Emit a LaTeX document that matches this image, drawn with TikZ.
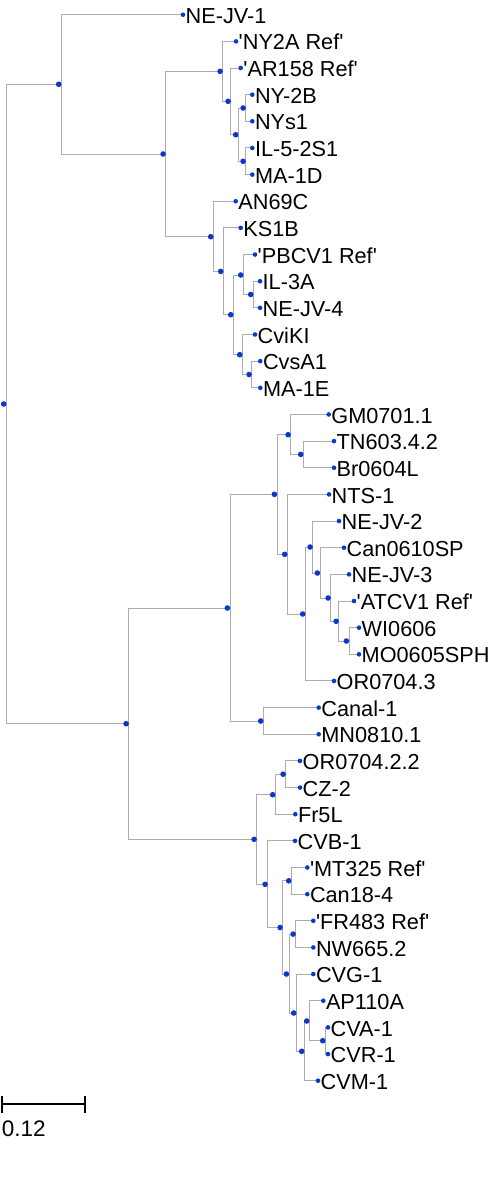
\documentclass[tikz,border=0pt]{standalone}
\usepackage{fontspec}
\setmainfont{Liberation Sans}
\definecolor{branchgray}{RGB}{172,172,172}
\definecolor{dotblue}{RGB}{10,55,205}
\newcommand{\apos}{\textquotesingle}
\tikzset{
    branch/.style={branchgray, line width=1pt},
    leaflabel/.style={anchor=base west, inner sep=0pt, xshift=2.5pt, yshift=-8.6pt,
        font=\fontsize{21.7}{26}\selectfont},
}
\begin{document}
\begin{tikzpicture}[x=1pt, y=-1pt]
    \useasboundingbox (0,0) rectangle (494,1179);
    % leaves, one row each
    \foreach \lx [count=\i] in {183,236,240.7,252.3,252.3,252.3,252.3,235.7,240.7,255,260,260,255,260.3,260.3,
        328.7,334,334,329,339,344,349,354,359,359,334,318.7,318.7,
        300,300,295.3,295,307.3,307.3,313.3,313.3,313.3,323.3,328,328,318}
        \coordinate (L\i) at (\lx,{14.7+26.65*(\i-1)});
    % internal nodes
    \coordinate (r) at (6.3,404);
    \coordinate (t) at (61.3,84.3);
    \coordinate (a) at (165.7,154);
    \coordinate (ny) at (222.7,71.3);
    \coordinate (nya) at (230.7,101.3);
    \coordinate (nyb) at (238.3,134.7);
    \coordinate (nyc) at (245.7,108);
    \coordinate (nyd) at (245.7,161.3);
    \coordinate (an) at (213.3,236.7);
    \coordinate (ks) at (223.3,271.4);
    \coordinate (pb) at (233.3,314.7);
    \coordinate (pv) at (243.3,275);
    \coordinate (il) at (253.3,294.5);
    \coordinate (cv) at (242.3,354.7);
    \coordinate (cs) at (251.7,374.5);
    \coordinate (b) at (128.7,723.7);
    \coordinate (c) at (230,608);
    \coordinate (ch) at (277,494.3);
    \coordinate (gm) at (290.7,434.7);
    \coordinate (tn) at (303.3,454.4);
    \coordinate (nt) at (287.3,554.3);
    \coordinate (s1) at (305.3,614);
    \coordinate (s2) at (312.7,547);
    \coordinate (s3) at (320,573);
    \coordinate (s4) at (330.7,598);
    \coordinate (s5) at (338.7,621.3);
    \coordinate (s6) at (349,641);
    \coordinate (cn) at (263.3,721);
    \coordinate (d) at (256.7,839.3);
    \coordinate (oc) at (275.3,794.7);
    \coordinate (oz) at (285.7,774.2);
    \coordinate (vb) at (267.7,884.3);
    \coordinate (e) at (282.7,927.5);
    \coordinate (mt) at (291.3,880.8);
    \coordinate (f) at (289,974);
    \coordinate (fr) at (295.7,934.1);
    \coordinate (g) at (296.3,1013);
    \coordinate (h) at (304.3,1051.3);
    \coordinate (ap) at (309.3,1021);
    \coordinate (ar) at (325.3,1040.7);
    % branches
    \foreach \p/\q in {r/t,r/b,t/L1,t/a,a/ny,a/an,ny/L2,ny/nya,nya/L3,nya/nyb,nyb/nyc,nyb/nyd,
        nyc/L4,nyc/L5,nyd/L6,nyd/L7,an/L8,an/ks,ks/L9,ks/pb,pb/pv,pb/cv,pv/L10,pv/il,
        il/L11,il/L12,cv/L13,cv/cs,cs/L14,cs/L15,
        b/c,b/d,c/ch,c/cn,ch/gm,ch/nt,gm/L16,gm/tn,tn/L17,tn/L18,nt/L19,nt/s1,s1/s2,s1/L26,
        s2/L20,s2/s3,s3/L21,s3/s4,s4/L22,s4/s5,s5/L23,s5/s6,s6/L24,s6/L25,cn/L27,cn/L28,
        d/oc,d/vb,oc/oz,oc/L31,oz/L29,oz/L30,vb/L32,vb/e,e/mt,e/f,mt/L33,mt/L34,
        f/fr,f/g,fr/L35,fr/L36,g/L37,g/h,h/ap,h/L41,ap/L38,ap/ar,ar/L39,ar/L40}
        \draw[branch] (\p) |- (\q);
    % dots
    \foreach \n in {r,t,a,ny,nya,nyb,nyc,nyd,an,ks,pb,pv,il,cv,cs,b,c,ch,gm,tn,nt,
        s1,s2,s3,s4,s5,s6,cn,d,oc,oz,vb,e,mt,f,fr,g,h,ap,ar}
        \fill[dotblue] ([xshift=-2.6pt]\n) circle (2.8pt);
    \foreach \i in {1,...,41}
        \fill[dotblue] (L\i) circle (2.3pt);
    % labels
    \foreach \i/\lab in {1/NE-JV-1, 2/\apos NY2A Ref\apos, 3/\apos AR158 Ref\apos, 4/NY-2B,
        5/NYs1, 6/IL-5-2S1, 7/MA-1D, 8/AN69C, 9/KS1B, 10/\apos PBCV1 Ref\apos, 11/IL-3A,
        12/NE-JV-4, 13/CviKI, 14/CvsA1, 15/MA-1E, 16/GM0701.1, 17/TN603.4.2, 18/Br0604L,
        19/NTS-1, 20/NE-JV-2, 21/Can0610SP, 22/NE-JV-3, 23/\apos ATCV1 Ref\apos, 24/WI0606,
        25/MO0605SPH, 26/OR0704.3, 27/Canal-1, 28/MN0810.1, 29/OR0704.2.2, 30/CZ-2,
        31/Fr5L, 32/CVB-1, 33/\apos MT325 Ref\apos, 34/Can18-4, 35/\apos FR483 Ref\apos,
        36/NW665.2, 37/CVG-1, 38/AP110A, 39/CVA-1, 40/CVR-1, 41/CVM-1}
        \node[leaflabel] (lab\i) at (L\i) {\lab};
    % scale bar
    \coordinate (sbl) at (2,1104.3);
    \coordinate (sbr) at (85,1104.3);
    \draw[line width=2pt] (sbl) -- (sbr);
    \draw[line width=2pt] ([yshift=8.8pt]sbl) -- ([yshift=-8.8pt]sbl);
    \draw[line width=2pt] ([yshift=8.8pt]sbr) -- ([yshift=-8.8pt]sbr);
    \node[anchor=base west, inner sep=0pt, font=\fontsize{22.5}{27}\selectfont] (sblab) at (1.7,1136.7) {0.12};
\end{tikzpicture}
\end{document}
